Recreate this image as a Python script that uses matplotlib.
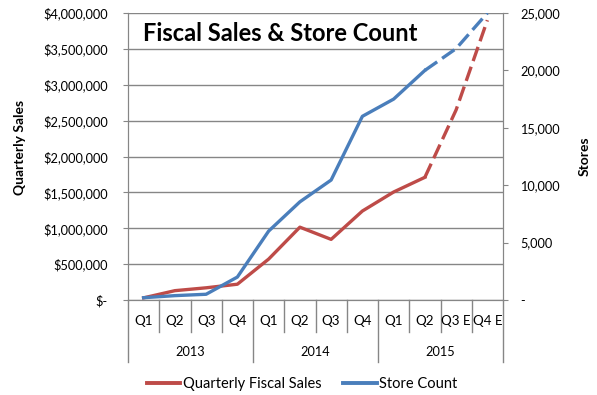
import matplotlib.pyplot as plt
from matplotlib.ticker import FuncFormatter
import matplotlib.transforms as mtransforms

quarters = ["Q1", "Q2", "Q3", "Q4", "Q1", "Q2", "Q3", "Q4", "Q1", "Q2", "Q3 E", "Q4 E"]
years = ["2013", "2014", "2015"]
sales = [30000, 130000, 170000, 220000, 570000, 1015000, 845000, 1240000,
         1505000, 1710000, 2650000, 3900000]
stores = [200, 380, 500, 2000, 6000, 8550, 10450, 16000, 17500, 20000, 21900, 25000]

red = "#BE4B48"
blue = "#4A7EBB"
grey = "#868686"
fs = 10.5
num_fs = 9.2

plt.rcParams['font.family'] = ['Lato', 'DejaVu Sans']

fig = plt.figure(figsize=(5.97, 3.95), dpi=100)
W, H = 597, 395
L, R, T, B = 128, 503, 13, 300
ax = fig.add_axes([L / W, 1 - B / H, (R - L) / W, (B - T) / H])
ax2 = ax.twinx()

x = list(range(len(quarters)))
n_act = 10  # actual values up to Q2 2015
dash = (4.5, 1.8)

ax.plot(x[:n_act], sales[:n_act], color=red, lw=2.4, solid_joinstyle='round', zorder=3)
ax.plot(x[n_act - 1:], sales[n_act - 1:], color=red, lw=2.4, dashes=dash, zorder=3)
ax2.plot(x[:n_act], stores[:n_act], color=blue, lw=2.4, solid_joinstyle='round', zorder=3)
ax2.plot(x[n_act - 1:], stores[n_act - 1:], color=blue, lw=2.4, dashes=dash, zorder=3)

ax.set_xlim(-0.5, len(quarters) - 0.5)
ax.set_ylim(0, 4000000)
ax2.set_ylim(0, 25000)
ax.set_yticks(range(0, 4000001, 500000))
ax2.set_yticks(range(0, 25001, 5000))

ax.yaxis.set_major_formatter(FuncFormatter(lambda v, p: "$-" if v == 0 else f"${v:,.0f}"))
ax2.yaxis.set_major_formatter(FuncFormatter(lambda v, p: "-" if v == 0 else f"{v:,.0f}"))

ax.grid(axis='y', color=grey, lw=1)
ax.set_axisbelow(True)
for a in (ax, ax2):
    a.spines['top'].set_visible(False)
    for s in ('left', 'right', 'bottom'):
        a.spines[s].set_color(grey)
    a.tick_params(axis='y', colors=grey, length=3.6, labelcolor='black', labelsize=num_fs)
ax.tick_params(axis='y', pad=10.8)
ax2.tick_params(axis='y', pad=8.6)
ax.set_xticks([])
ax2.set_xticks([])

# two-level category axis
trans = mtransforms.blended_transform_factory(ax.transData, ax.transAxes)
h = B - T
for i, q in enumerate(quarters):
    ax.text(i, -21 / h, q, transform=trans, ha='center', va='center', fontsize=9.6)
for i in range(len(quarters) + 1):
    xb = i - 0.5
    depth = 62 if i % 4 == 0 else 32
    ax.plot([xb, xb], [0, -depth / h], transform=trans, color=grey, lw=1, clip_on=False)
for j, yr in enumerate(years):
    ax.text(4 * j + 1.5, -52 / h, yr, transform=trans, ha='center', va='center', fontsize=num_fs)

fig.text(20 / W, 1 - 147 / H, "Quarterly Sales", rotation=90, ha='center', va='center',
         fontsize=10, fontweight='bold')
fig.text(585 / W, 1 - 156 / H, "Stores", rotation=90, ha='center', va='center',
         fontsize=10, fontweight='bold')

ax.text(0.04, 0.93, "Fiscal Sales & Store Count", transform=ax.transAxes,
        fontsize=17, fontweight='bold', ha='left', va='center')

h1 = plt.Line2D([], [], color=red, lw=2.8)
h2 = plt.Line2D([], [], color=blue, lw=2.8)
fig.legend([h1, h2], ["Quarterly Fiscal Sales", "Store Count"], loc='center',
           bbox_to_anchor=(302 / W, 1 - 384 / H), ncol=2, frameon=False,
           fontsize=fs, handlelength=2.3, handletextpad=0.15, columnspacing=1.5)

fig.savefig("out.png", dpi=100)
